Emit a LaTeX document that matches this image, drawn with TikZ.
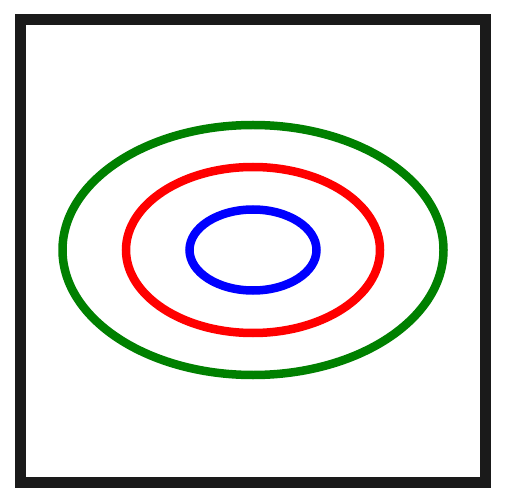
\documentclass[tikz,border=0pt]{standalone}
\definecolor{framegray}{RGB}{26,26,26}
\definecolor{ringgreen}{RGB}{0,128,0}
\definecolor{ringred}{RGB}{255,0,0}
\definecolor{ringblue}{RGB}{0,0,255}
\begin{document}
\begin{tikzpicture}[x=1pt,y=-1pt,
  ring/.style={line width=8.5pt}]
\useasboundingbox (0,0) rectangle (505,502);
\fill[white] (0,0) rectangle (505,502);
\draw[framegray, line width=11pt] (20.5,20) rectangle (485.5,482.5);
\coordinate (c) at (253,250);
\draw[ring, ringgreen] (c) ellipse [x radius=190.5, y radius=125];
\draw[ring, ringred] (c) ellipse [x radius=127, y radius=83];
\draw[ring, ringblue] (c) ellipse [x radius=63.5, y radius=40.5];
\end{tikzpicture}
\end{document}
